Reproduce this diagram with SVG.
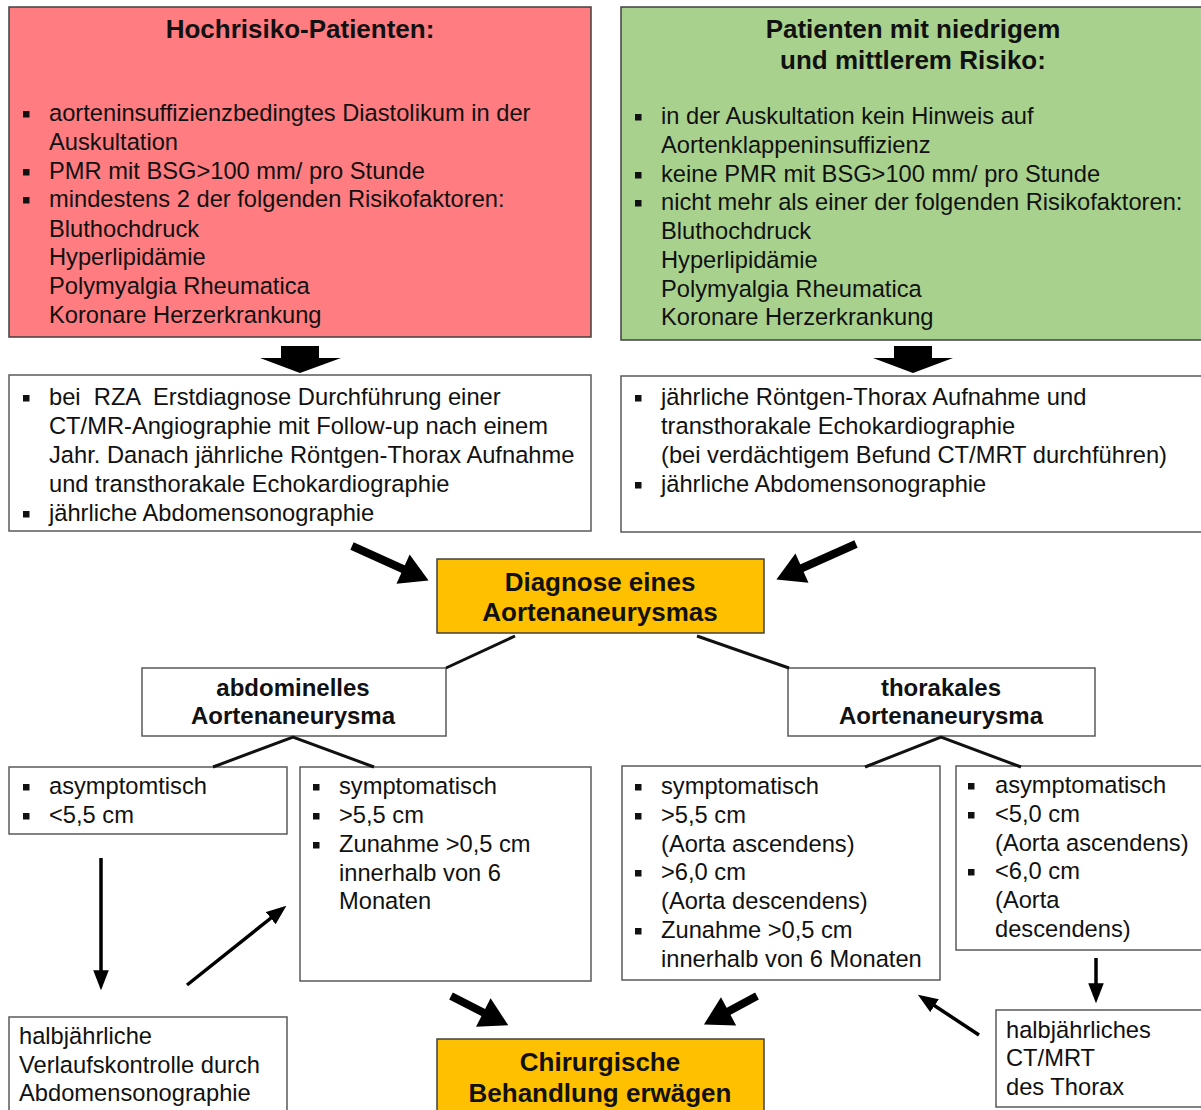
<svg xmlns="http://www.w3.org/2000/svg" width="1201" height="1110" viewBox="0 0 1201 1110">
<style>
  text { font-family: "Liberation Sans", Arial, sans-serif; fill: #111; }
  .t { font-size: 23.7px; }
  .h { font-size: 26px; font-weight: bold; text-anchor: middle; }
  .s { font-size: 24px; font-weight: bold; text-anchor: middle; }
  .box { fill: #fff; stroke: #595959; stroke-width: 1.5; }
  .red { fill: #FF7C80; stroke: #404040; stroke-width: 1.5; }
  .green { fill: #A9D18E; stroke: #404040; stroke-width: 1.5; }
  .orange { fill: #FFC000; stroke: #404040; stroke-width: 1.5; }
  .b { fill: #111; }
  .tree { stroke: #111; stroke-width: 3; fill: none; }
  .thick { stroke: #000; stroke-width: 8; fill: none; marker-end: url(#bigHead); }
  .thin { stroke: #000; stroke-width: 3.5; fill: none; marker-end: url(#smallHead); }
  .block { fill: #000; }
</style>
<defs>
  <marker id="bigHead" markerUnits="userSpaceOnUse" markerWidth="30" markerHeight="32" viewBox="0 0 28 32" refX="12" refY="16" orient="auto">
    <path d="M0,0 L28,16 L0,32 z" fill="#000"/>
  </marker>
  <marker id="smallHead" markerUnits="userSpaceOnUse" markerWidth="20" markerHeight="16" viewBox="0 0 18 14" refX="6" refY="7" orient="auto">
    <path d="M0,0 L18,7 L0,14 z" fill="#000"/>
  </marker>
  <rect id="bul" width="6.5" height="6.5"/>
</defs>

<g id="high-risk">
  <rect class="red" x="9" y="7" width="582" height="330"/>
  <text class="h" x="300" y="38">Hochrisiko-Patienten:</text>
  <use href="#bul" class="b" x="23" y="111"/>
  <text class="t" x="49" y="121">aorteninsuffizienzbedingtes Diastolikum in der</text>
  <text class="t" x="49" y="150">Auskultation</text>
  <use href="#bul" class="b" x="23" y="169"/>
  <text class="t" x="49" y="179">PMR mit BSG&gt;100 mm/ pro Stunde</text>
  <use href="#bul" class="b" x="23" y="197"/>
  <text class="t" x="49" y="207">mindestens 2 der folgenden Risikofaktoren:</text>
  <text class="t" x="49" y="237">Bluthochdruck</text>
  <text class="t" x="49" y="265">Hyperlipidämie</text>
  <text class="t" x="49" y="294">Polymyalgia Rheumatica</text>
  <text class="t" x="49" y="323">Koronare Herzerkrankung</text>
</g>

<g id="low-risk">
  <rect class="green" x="621" y="7" width="600" height="333"/>
  <text class="h" x="913" y="38">Patienten mit niedrigem</text>
  <text class="h" x="913" y="69">und mittlerem Risiko:</text>
  <use href="#bul" class="b" x="635" y="114"/>
  <text class="t" x="661" y="124">in der Auskultation kein Hinweis auf</text>
  <text class="t" x="661" y="153">Aortenklappeninsuffizienz</text>
  <use href="#bul" class="b" x="635" y="172"/>
  <text class="t" x="661" y="182">keine PMR mit BSG&gt;100 mm/ pro Stunde</text>
  <use href="#bul" class="b" x="635" y="200"/>
  <text class="t" x="661" y="210">nicht mehr als einer der folgenden Risikofaktoren:</text>
  <text class="t" x="661" y="239">Bluthochdruck</text>
  <text class="t" x="661" y="268">Hyperlipidämie</text>
  <text class="t" x="661" y="297">Polymyalgia Rheumatica</text>
  <text class="t" x="661" y="325">Koronare Herzerkrankung</text>
</g>

<g id="high-risk-followup">
  <rect class="box" x="9" y="375" width="582" height="156"/>
  <use href="#bul" class="b" x="23" y="395"/>
  <text class="t" x="49" y="405" xml:space="preserve">bei  RZA  Erstdiagnose Durchführung einer</text>
  <text class="t" x="49" y="434">CT/MR-Angiographie mit Follow-up nach einem</text>
  <text class="t" x="49" y="463">Jahr. Danach jährliche Röntgen-Thorax Aufnahme</text>
  <text class="t" x="49" y="492">und transthorakale Echokardiographie</text>
  <use href="#bul" class="b" x="23" y="511"/>
  <text class="t" x="49" y="521">jährliche Abdomensonographie</text>
</g>

<g id="low-risk-followup">
  <rect class="box" x="621" y="376" width="600" height="156"/>
  <use href="#bul" class="b" x="635" y="395"/>
  <text class="t" x="661" y="405">jährliche Röntgen-Thorax Aufnahme und</text>
  <text class="t" x="661" y="434">transthorakale Echokardiographie</text>
  <text class="t" x="661" y="463">(bei verdächtigem Befund CT/MRT durchführen)</text>
  <use href="#bul" class="b" x="635" y="482"/>
  <text class="t" x="661" y="492">jährliche Abdomensonographie</text>
</g>

<g id="diagnosis">
  <rect class="orange" x="437" y="559" width="327" height="74"/>
  <text class="h" x="600" y="591">Diagnose eines</text>
  <text class="h" x="600" y="621">Aortenaneurysmas</text>
</g>

<g id="abdominal">
  <rect class="box" x="142" y="668" width="304" height="68"/>
  <text class="s" x="293" y="696">abdominelles</text>
  <text class="s" x="293" y="724">Aortenaneurysma</text>
</g>

<g id="thoracic">
  <rect class="box" x="788" y="668" width="307" height="68"/>
  <text class="s" x="941" y="696">thorakales</text>
  <text class="s" x="941" y="724">Aortenaneurysma</text>
</g>

<g id="abd-asym">
  <rect class="box" x="9" y="767" width="278" height="67"/>
  <use href="#bul" class="b" x="23" y="784"/>
  <text class="t" x="49" y="794">asymptomtisch</text>
  <use href="#bul" class="b" x="23" y="813"/>
  <text class="t" x="49" y="823">&lt;5,5 cm</text>
</g>

<g id="abd-sym">
  <rect class="box" x="300" y="767" width="291" height="214"/>
  <use href="#bul" class="b" x="313" y="784"/>
  <text class="t" x="339" y="794">symptomatisch</text>
  <use href="#bul" class="b" x="313" y="813"/>
  <text class="t" x="339" y="823">&gt;5,5 cm</text>
  <use href="#bul" class="b" x="313" y="842"/>
  <text class="t" x="339" y="852">Zunahme &gt;0,5 cm</text>
  <text class="t" x="339" y="881">innerhalb von 6</text>
  <text class="t" x="339" y="909">Monaten</text>
</g>

<g id="tho-sym">
  <rect class="box" x="622" y="766" width="318" height="214"/>
  <use href="#bul" class="b" x="635" y="784"/>
  <text class="t" x="661" y="794">symptomatisch</text>
  <use href="#bul" class="b" x="635" y="813"/>
  <text class="t" x="661" y="823">&gt;5,5 cm</text>
  <text class="t" x="661" y="852">(Aorta ascendens)</text>
  <use href="#bul" class="b" x="635" y="870"/>
  <text class="t" x="661" y="880">&gt;6,0 cm</text>
  <text class="t" x="661" y="909">(Aorta descendens)</text>
  <use href="#bul" class="b" x="635" y="928"/>
  <text class="t" x="661" y="938">Zunahme &gt;0,5 cm</text>
  <text class="t" x="661" y="967">innerhalb von 6 Monaten</text>
</g>

<g id="tho-asym">
  <rect class="box" x="956" y="766" width="260" height="184"/>
  <use href="#bul" class="b" x="968" y="783"/>
  <text class="t" x="995" y="793">asymptomatisch</text>
  <use href="#bul" class="b" x="968" y="812"/>
  <text class="t" x="995" y="822">&lt;5,0 cm</text>
  <text class="t" x="995" y="851">(Aorta ascendens)</text>
  <use href="#bul" class="b" x="968" y="869"/>
  <text class="t" x="995" y="879">&lt;6,0 cm</text>
  <text class="t" x="995" y="908">(Aorta</text>
  <text class="t" x="995" y="937">descendens)</text>
</g>

<g id="abd-monitor">
  <rect class="box" x="9" y="1017" width="278" height="100"/>
  <text class="t" x="19" y="1044">halbjährliche</text>
  <text class="t" x="19" y="1073">Verlaufskontrolle durch</text>
  <text class="t" x="19" y="1101">Abdomensonographie</text>
</g>

<g id="surgery">
  <rect class="orange" x="437" y="1039" width="327" height="80"/>
  <text class="h" x="600" y="1071">Chirurgische</text>
  <text class="h" x="600" y="1102">Behandlung erwägen</text>
</g>

<g id="tho-monitor">
  <rect class="box" x="996" y="1010" width="220" height="97"/>
  <text class="t" x="1006" y="1038">halbjährliches</text>
  <text class="t" x="1006" y="1066">CT/MRT</text>
  <text class="t" x="1006" y="1095">des Thorax</text>
</g>

<g id="connectors">
  <polygon class="block" points="281,346 319,346 319,358 341,358 300,373 260,358 281,358"/>
  <polygon class="block" points="894,346 932,346 932,358 953,358 913,373 873,358 894,358"/>
  <line class="thick" x1="352" y1="546" x2="414" y2="574"/>
  <line class="thick" x1="856" y1="544" x2="791" y2="573"/>
  <polyline class="tree" points="515,636 446,668"/>
  <polyline class="tree" points="697,636 789,668"/>
  <polyline class="tree" points="213,767 293,737 374,767"/>
  <polyline class="tree" points="865,767 941,737 1021,767"/>
  <line class="thin" x1="101" y1="858" x2="101" y2="977"/>
  <line class="thin" x1="187" y1="985" x2="276" y2="914"/>
  <line class="thick" x1="451" y1="996" x2="494" y2="1018"/>
  <line class="thick" x1="757" y1="996" x2="718" y2="1017"/>
  <line class="thin" x1="1096" y1="958" x2="1096" y2="990"/>
  <line class="thin" x1="979" y1="1035" x2="929" y2="1002"/>
</g>
</svg>
